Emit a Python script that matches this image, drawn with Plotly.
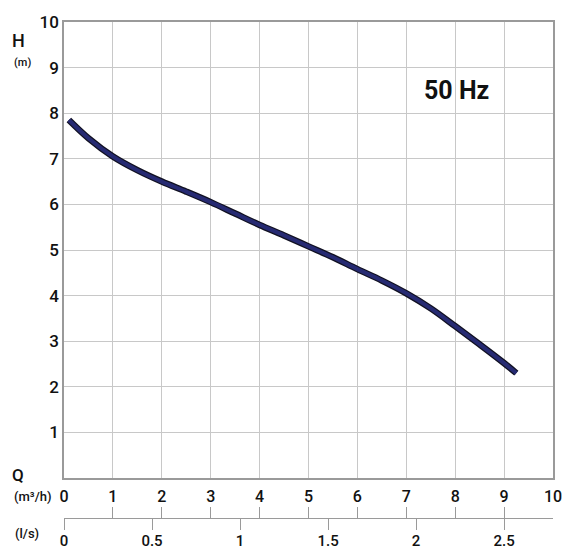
import plotly.graph_objects as go

# Data
q_m3h = [0.1, 0.5, 1.0, 1.5, 2.0, 2.5, 3.0, 3.5, 4.0, 4.5, 5.0, 5.5, 6.0, 6.5, 7.0, 7.5, 8.0, 8.5, 9.0, 9.25]
h_m   = [7.85, 7.45, 7.05, 6.75, 6.5, 6.28, 6.05, 5.8, 5.55, 5.32, 5.08, 4.84, 4.58, 4.33, 4.05, 3.72, 3.33, 2.93, 2.52, 2.3]

q_ticks = list(range(0, 11))
h_ticks = list(range(1, 11))
ls_ticks = [0, 0.5, 1, 1.5, 2, 2.5]
ls_labels = ["0", "0.5", "1", "1.5", "2", "2.5"]

W, H = 564, 550
# pixel layout targets
S_LEFT, S_RIGHT, S_TOP, S_BOTTOM = 63.5, 553.5, 22, 478
S_AXIS2 = 518
ML = S_LEFT
MR = W - S_RIGHT
MT = S_TOP
MB = 4
PW, PH = W - ML - MR, H - MT - MB

def px_x(sx):
    return (sx - ML) / PW

def px_y(sy):
    return (H - MB - sy) / PH

FONT = "Roboto"
GRID = "#c8c8c8"
AX = "#9a9a9a"

fig = go.Figure()
fig.add_trace(go.Scatter(x=q_m3h, y=h_m, mode="lines", line=dict(color="#111122", width=6.5, shape="spline"),
                         hoverinfo="skip", showlegend=False))
fig.add_trace(go.Scatter(x=q_m3h, y=h_m, mode="lines", line=dict(color="#262a72", width=4, shape="spline"),
                         showlegend=False))
fig.add_trace(go.Scatter(x=[0, 10 / 3.6], y=[0, 0], xaxis="x2", yaxis="y", mode="lines",
                         line=dict(width=0), hoverinfo="skip", showlegend=False))
fig.add_trace(go.Scatter(x=[0, 10], y=[0, 0], xaxis="x3", yaxis="y", mode="lines",
                         line=dict(width=0), hoverinfo="skip", showlegend=False))

xtickfont = dict(family=FONT, size=16, color="#111111", weight=500)
lstickfont = dict(family=FONT, size=15, color="#111111", weight=500)
ytickfont = dict(family=FONT, size=17, color="#111111", weight=500)

fig.update_layout(
    width=W, height=H,
    margin=dict(l=ML, r=MR, t=MT, b=MB, autoexpand=False),
    paper_bgcolor="white", plot_bgcolor="white",
    xaxis=dict(range=[0, 10], tickvals=q_ticks, ticktext=[str(v) for v in q_ticks],
               showgrid=True, gridcolor=GRID, gridwidth=1, zeroline=False,
               showline=True, linecolor=AX, linewidth=1.5, mirror=True, automargin=False,
               ticks="", ticklabelstandoff=3, tickfont=xtickfont, anchor="y"),
    yaxis=dict(range=[0, 10], domain=[px_y(S_BOTTOM), 1], tickvals=h_ticks, ticktext=[str(v) for v in h_ticks],
               showgrid=True, gridcolor=GRID, gridwidth=1, zeroline=False,
               showline=True, linecolor=AX, linewidth=1.5, mirror=True, automargin=False,
               ticks="", ticklabelstandoff=0, tickfont=ytickfont),
    xaxis2=dict(range=[0, 10 / 3.6], overlaying="x", anchor="free", position=px_y(S_AXIS2), side="bottom",
                tickvals=ls_ticks, ticktext=ls_labels, showgrid=False, zeroline=False, automargin=False,
                showline=True, linecolor=AX, linewidth=1.2, ticks="outside", ticklen=11,
                tickcolor=AX, tickwidth=1.2, tickfont=lstickfont, ticklabelstandoff=-2),
    xaxis3=dict(range=[0, 10], overlaying="x", anchor="free", position=px_y(S_AXIS2), side="bottom",
                tickvals=q_ticks, showticklabels=False, showgrid=False, zeroline=False, automargin=False,
                showline=False, ticks="inside", ticklen=11, tickcolor=AX, tickwidth=1.2),
)

ann_font = dict(family=FONT, color="#111111")
fig.add_annotation(text="<b>50 Hz</b>", x=8.03, y=8.5, xref="x", yref="y", showarrow=False,
                   xanchor="center", yanchor="middle", font=dict(size=25, **ann_font))
pixel_texts = [
    ("H", 18, 40, 18, 500),
    ("(m)", 22, 62, 11, 500),
    ("Q", 17, 475, 17, 500),
    ("(m³/h)", 32, 496, 13, 500),
    ("(l/s)", 26, 533, 13, 500),
]
for txt, px, py, size, wt in pixel_texts:
    fig.add_annotation(text=txt, x=px_x(px), y=px_y(py), xref="paper", yref="paper",
                       showarrow=False, xanchor="center", yanchor="middle",
                       font=dict(size=size, weight=wt, **ann_font))

fig.write_html("out.html", config={"displayModeBar": False},
               post_script="document.body.style.margin='0';document.body.style.overflow='hidden';")
